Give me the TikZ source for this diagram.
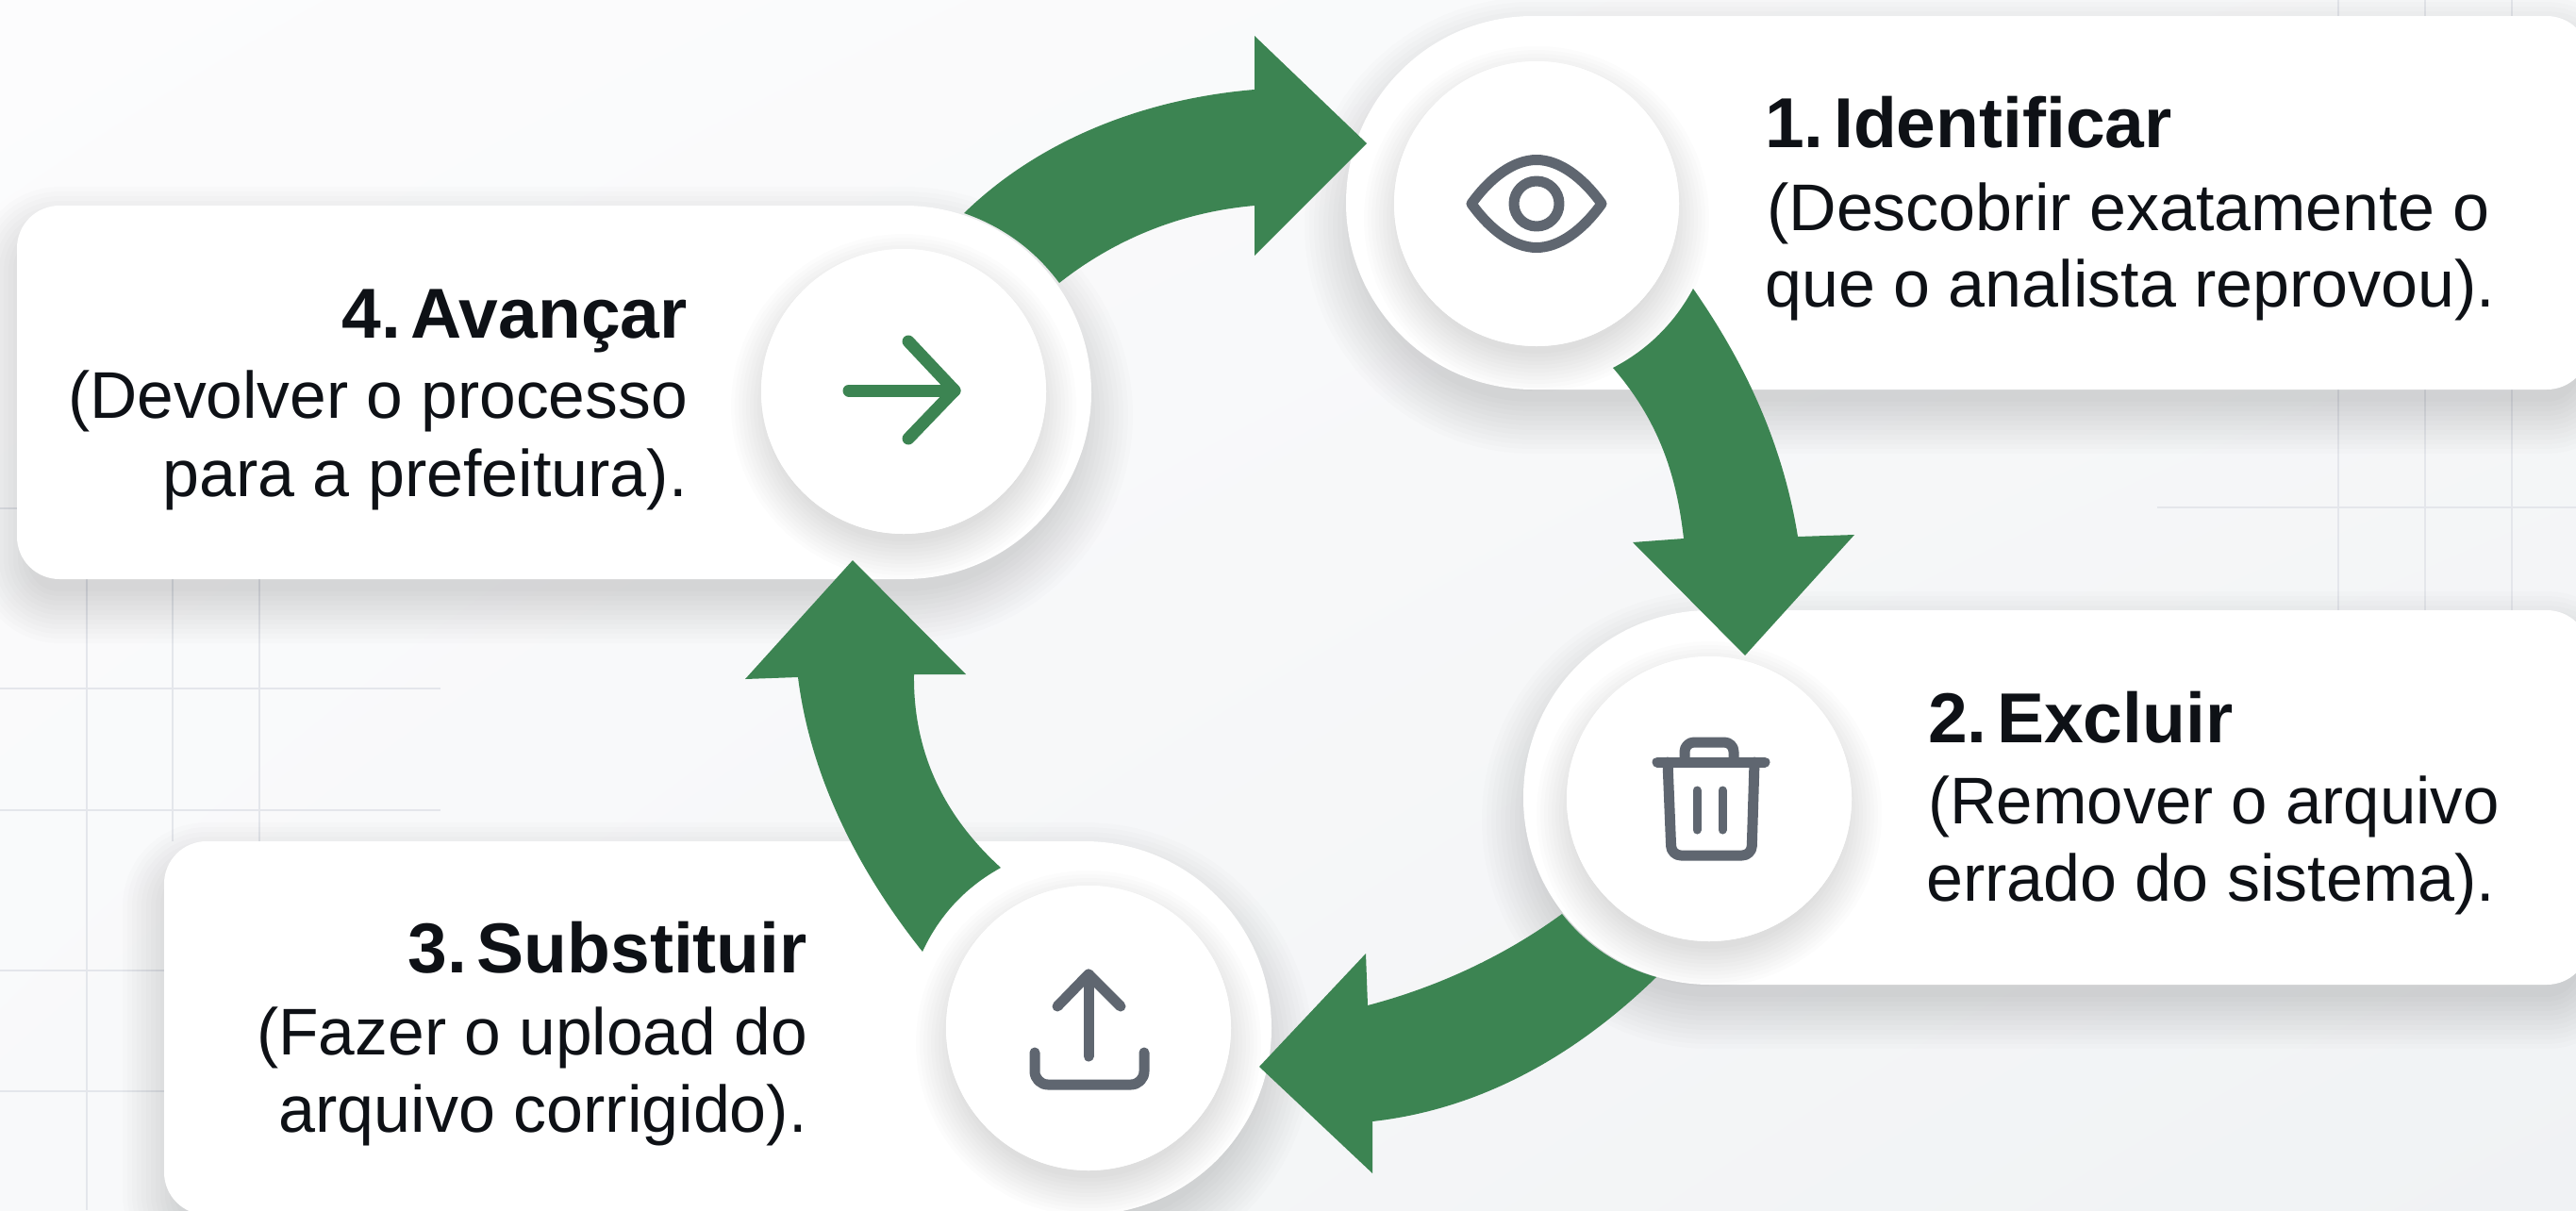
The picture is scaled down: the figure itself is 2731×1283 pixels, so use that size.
\documentclass[tikz,border=0pt]{standalone}
\usepackage{fontspec}
\setmainfont{Liberation Sans}
\usetikzlibrary{calc,shadings}
\definecolor{flowgreen}{HTML}{3C8452}
\definecolor{icongray}{HTML}{5F6670}
\definecolor{inkcolor}{HTML}{0E1116}
\definecolor{gridcolor}{HTML}{E4E6EB}
\definecolor{bgul}{HTML}{FCFCFD}
\definecolor{bgur}{HTML}{F7F8F9}
\definecolor{bgll}{HTML}{F8F9FA}
\definecolor{bglr}{HTML}{F0F2F4}
\tikzset{
  x=1pt,y=-1pt,
  gridline/.style={draw=gridcolor,line width=2.2pt},
  flowarrow/.style={fill=flowgreen,draw=none},
  iconcircle/.style={circle,fill=white,draw=none,minimum size=302pt,inner sep=0pt},
  iconline/.style={draw=icongray,line width=11pt,line cap=round,line join=round},
  titletext/.style={font=\bfseries\fontsize{75}{80}\selectfont,text=inkcolor,inner sep=0pt},
  bodytext/.style={font=\fontsize{70}{80}\selectfont,text=inkcolor,inner sep=0pt},
  narrowline/.style={transform shape,xscale=0.985},
  slimline/.style={transform shape,xscale=0.993},
}
% card: x0,y0,x1,y1,left radius,right radius
\newcommand{\cardshape}[7]{%
  \path[#7] ({#1+200},#2) [rounded corners=#6pt] -- (#3,#2) -- (#3,#4)
     [rounded corners=#5pt] -- (#1,#4) -- (#1,#2) -- ({#1+200},#2);%
}
\newcommand{\softcard}[6]{%
  \foreach \e in {44,39,...,-11}{%
    \pgfmathsetmacro{\rl}{max(#5+\e,1)}%
    \pgfmathsetmacro{\rr}{max(#6+\e,1)}%
    \cardshape{#1-\e}{#2+24-\e}{#3+\e}{#4+24+\e}{\rl}{\rr}{fill=black,fill opacity=0.011}%
  }%
  \cardshape{#1}{#2}{#3}{#4}{#5}{#6}{fill=white}%
}
\newcommand{\softcircle}[2]{%
  \foreach \e in {32,28,...,-8}{%
    \fill[black,fill opacity=0.012] (#1,{#2+16}) circle[radius={(151+\e)*1pt}];%
  }%
}
\begin{document}
\begin{tikzpicture}
\useasboundingbox (0,0) rectangle (2731,1283);
\clip (0,0) rectangle (2731,1283);
\shade[shading=bilinear interpolation,upper left=bgul,upper right=bgur,lower left=bgll,lower right=bglr] (0,0) rectangle (2731,1283);

% faint grid
\draw[gridline] (92,614) -- (92,1283);
\draw[gridline] (183,614) -- (183,892);
\draw[gridline] (275,614) -- (275,892);
\draw[gridline] (0,730) -- (467,730);
\draw[gridline] (0,859) -- (467,859);
\draw[gridline] (0,1029) -- (174,1029);
\draw[gridline] (0,1157) -- (174,1157);
\draw[gridline] (0,539) -- (18,539);
\draw[gridline] (2479,0) -- (2479,647);
\draw[gridline] (2571,0) -- (2571,647);
\draw[gridline] (2663,0) -- (2663,647);
\draw[gridline] (2287,538) -- (2731,538);

% cards
\softcard{1427}{17}{2745}{413}{198}{45}
\softcard{1615}{647}{2745}{1044}{198}{45}
\softcard{174}{892}{1348}{1288}{45}{198}
\softcard{18}{218}{1157}{614}{45}{198}

\softcircle{1629}{216}
\softcircle{1812}{847}
\softcircle{1154}{1090}
\softcircle{958}{415}

% named circles (nodes)
\node[iconcircle] (c1) at (1629,216) {};
\node[iconcircle] (c2) at (1812,847) {};
\node[iconcircle] (c3) at (1154,1090) {};
\node[iconcircle] (c4) at (958,415) {};

% arrow anchors, relative to the circles they join
\coordinate (a1s) at ([shift={(64,-189)}]c4.center);
\coordinate (a1t) at ([shift={(165,-115)}]c4.center);
\coordinate (a1p) at ([shift={(-180,-64)}]c1.center);
\coordinate (a2s) at ([shift={(166,90)}]c1.center);
\coordinate (a2t) at ([shift={(81,174)}]c1.center);
\coordinate (a2p) at ([shift={(38,-152)}]c2.center);
\coordinate (a3s) at ([shift={(-56,189)}]c2.center);
\coordinate (a3t) at ([shift={(-156,122)}]c2.center);
\coordinate (a3p) at ([shift={(181,41)}]c3.center);
\coordinate (a4s) at ([shift={(-176,-81)}]c3.center);
\coordinate (a4t) at ([shift={(-93,-170)}]c3.center);
\coordinate (a4p) at ([shift={(-54,179)}]c4.center);

% block arrows
\fill[flowarrow] (a1s) .. controls (1100,150) and (1210,105) .. (1330,95)
  -- (1330,38) -- (a1p) -- (1330,271) -- (1330,218)
  .. controls (1250,225) and (1180,255) .. (a1t)
  .. controls (1097,265) and (1063.3,240.4) .. (a1s) -- cycle;
\fill[flowarrow] (a2s) .. controls (1850,385) and (1890,470) .. (1906,569)
  -- (1966,567) -- (a2p) -- (1731,575) -- (1785,571)
  .. controls (1778,510) and (1762,450) .. (a2t)
  .. controls (1746.7,370.9) and (1775.1,342.9) .. (a2s) -- cycle;
\fill[flowarrow] (a3s) .. controls (1680,1110) and (1580,1175) .. (1455,1189)
  -- (1455,1244) -- (a3p) -- (1448,1011) -- (1450,1066)
  .. controls (1530,1045) and (1600,1010) .. (a3t)
  .. controls (1682,1002.1) and (1715.3,1024.5) .. (a3s) -- cycle;
\fill[flowarrow] (a4s) .. controls (915,930) and (860,830) .. (846,718)
  -- (790,720) -- (a4p) -- (1024,715) -- (969,715)
  .. controls (968,790) and (995,860) .. (a4t)
  .. controls (1023.6,940.6) and (995.9,970.3) .. (a4s) -- cycle;

% re-cover circle tops
\node[iconcircle] at (c1) {};
\node[iconcircle] at (c2) {};
\node[iconcircle] at (c3) {};
\node[iconcircle] at (c4) {};

% eye
\draw[iconline] (1560,216) .. controls (1580,188) and (1605,169.5) .. (1629,169.5)
  .. controls (1653,169.5) and (1678,188) .. (1698,216)
  .. controls (1678,244) and (1653,262.5) .. (1629,262.5)
  .. controls (1605,262.5) and (1580,244) .. (1560,216) -- cycle;
\draw[iconline] (1629,216) circle[radius=24pt];

% trash
\draw[iconline] (1757,808) -- (1871,808);
\draw[iconline,rounded corners=10pt] (1768,808) -- (1772,907) -- (1857,907) -- (1860,808);
\draw[iconline,rounded corners=10pt] (1786,808) -- (1786,787) -- (1838,787) -- (1838,808);
\draw[iconline,line width=9pt] (1799,838) -- (1799,880);
\draw[iconline,line width=9pt] (1826,838) -- (1826,880);

% upload
\draw[iconline] (1154,1120) -- (1154,1033);
\draw[iconline] (1121,1067) -- (1154,1033) -- (1188,1067);
\draw[iconline,rounded corners=14pt] (1097,1116) -- (1097,1150) -- (1213,1150) -- (1213,1116);

% forward arrow
\draw[iconline,draw=flowgreen,line width=13pt] (900,414) -- (1012,414);
\draw[iconline,draw=flowgreen,line width=13pt] (963,362) -- (1012,414) -- (963,465);

% texts
\node[titletext,anchor=base west] (t1) at (1871,156) {1.\hspace{0.14em}Identificar};
\node[bodytext,anchor=base west] (b1a) at (1873,244) {(Descobrir exatamente o};
\node[bodytext,anchor=base west] (b1b) at (1871,325) {que o analista reprovou).};
\node[titletext,anchor=base west] (t2) at (2044,787) {2.\hspace{0.14em}Excluir};
\node[bodytext,anchor=base west,narrowline] (b2a) at (2044,873) {(Remover o arquivo};
\node[bodytext,anchor=base west] (b2b) at (2042,955) {errado do sistema).};
\node[titletext,anchor=base east] (t3) at (856,1031) {3.\hspace{0.14em}Substituir};
\node[bodytext,anchor=base east,slimline] (b3a) at (856,1118) {(Fazer o upload do};
\node[bodytext,anchor=base east] (b3b) at (856,1200) {arquivo corrigido).};
\node[titletext,anchor=base east] (t4) at (729,358) {4.\hspace{0.14em}Avançar};
\node[bodytext,anchor=base east,slimline] (b4a) at (729,443) {(Devolver o processo};
\node[bodytext,anchor=base east] (b4b) at (729,526) {para a prefeitura).};
\end{tikzpicture}
\end{document}
